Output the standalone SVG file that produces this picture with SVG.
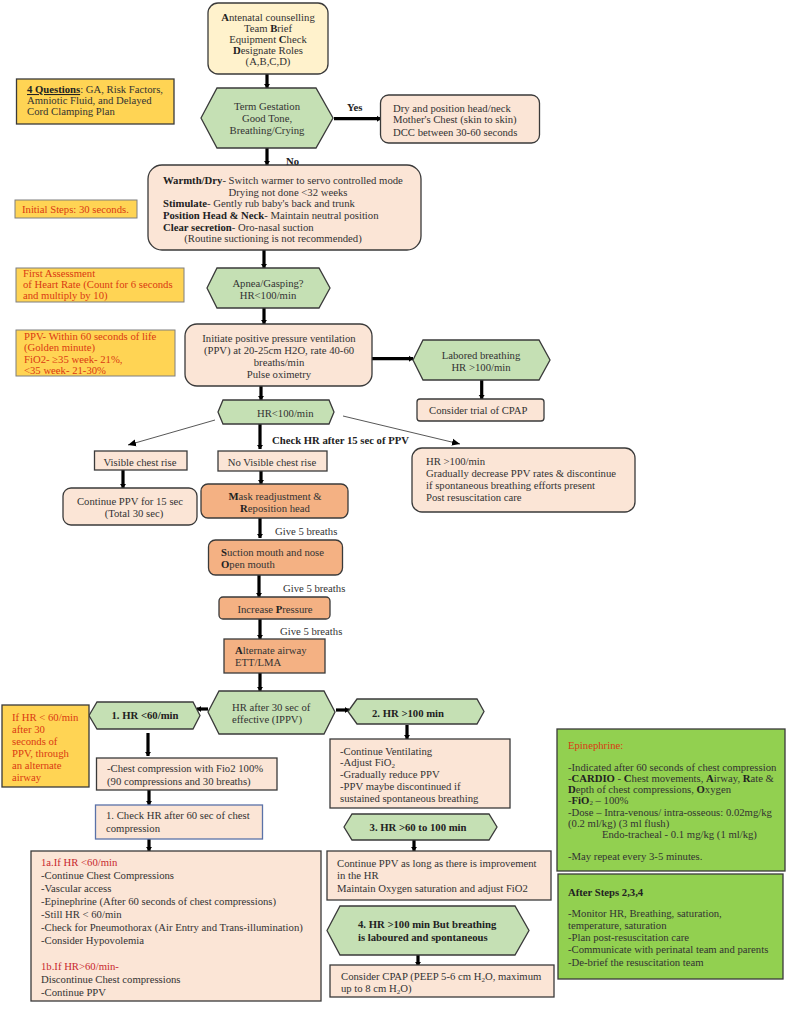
<svg xmlns="http://www.w3.org/2000/svg" width="787" height="1009" viewBox="0 0 787 1009">
<style>
text{font-family:"Liberation Serif","Times New Roman",serif;font-size:10.7px;fill:#333}
.c{text-anchor:middle}
.b{font-weight:bold;fill:#222}
.k{font-weight:bold;fill:#222}
.r{fill:#DA3A12}
.d{fill:#C8282E}
.s{font-size:7px}
.n{stroke:#3a3a3a;stroke-width:1.3}
.cream{fill:#FFF2CC}
.peach{fill:#FBE5D6}
.orange{fill:#F4B183}
.green{fill:#C5E0B4}
.yellow{fill:#FFD454}
.lime{fill:#92D050}
.g{stroke:#7f7f7f}
#connectors .t{stroke:#000;stroke-width:3.2;fill:none;marker-end:url(#h)}
#connectors .f{stroke:#444;stroke-width:.9;fill:none;marker-end:url(#a)}
</style>
<defs>
<marker id="h" markerUnits="userSpaceOnUse" markerWidth="8" markerHeight="8" refX="6" refY="4" orient="auto"><path d="M2 1L6 4L2 7Z" fill="#000"/></marker>
<marker id="a" markerUnits="userSpaceOnUse" markerWidth="9" markerHeight="8" refX="8" refY="4" orient="auto"><path d="M0 0.5L8 4L0 7.5Z" fill="#000"/></marker>
</defs>
<rect width="787" height="1009" fill="#fff"/>
<g id="connectors">
<path class="t" d="M267 74V88"/>
<path class="t" d="M334 118.700H381"/>
<path class="t" d="M267 148V165"/>
<path class="t" d="M264 250V268"/>
<path class="t" d="M264 306V324"/>
<path class="t" d="M261 386V400"/>
<path class="t" d="M372 358.700H413"/>
<path class="t" d="M481.700 380V399"/>
<path class="f" d="M215 420L128 445"/>
<path class="f" d="M343 416L460 444"/>
<path class="t" d="M260 424V449"/>
<path class="t" d="M123 470V488"/>
<path class="t" d="M261 471V484"/>
<path class="t" d="M260 518V538"/>
<path class="t" d="M259 575V597"/>
<path class="t" d="M260 619V639"/>
<path class="t" d="M260 673V691"/>
<path class="t" d="M208 709H197"/>
<path class="t" d="M336 710H349"/>
<path class="t" d="M148 733V756"/>
<path class="t" d="M149 790V805"/>
<path class="t" d="M149 839V851"/>
<path class="t" d="M407 725V739"/>
<path class="t" d="M414 840V851"/>
<path class="t" d="M418 953V966"/>
</g>
<g id="n-antenatal"><rect class="n cream" x="208" y="3" width="120" height="71" rx="10"/>
<text class="c" x="268" y="21"><tspan class="k">A</tspan>ntenatal counselling</text><text class="c" x="268" y="32">Team <tspan class="k">B</tspan>rief</text><text class="c" x="268" y="43">Equipment <tspan class="k">C</tspan>heck</text><text class="c" x="268" y="54"><tspan class="k">D</tspan>esignate Roles</text><text class="c" x="268" y="65">(A,B,C,D)</text></g>
<g id="n-questions"><rect class="n yellow" x="16.500" y="79" width="157.500" height="45"/>
<text x="27" y="93"><tspan class="k" text-decoration="underline">4 Questions</tspan>: GA, Risk Factors,</text><text x="27" y="104">Amniotic Fluid, and Delayed</text><text x="27" y="115">Cord Clamping Plan</text></g>
<g id="n-term"><polygon class="n green" points="201,118 217,88 316,88 333,118 316,148 217,148"/>
<text class="c" x="267" y="110">Term Gestation</text><text class="c" x="267" y="122">Good Tone,</text><text class="c" x="267" y="134">Breathing/Crying</text></g>
<g id="l-yes"><text class="b" x="347" y="111">Yes</text></g>
<g id="n-dry"><rect class="n peach" x="380.500" y="95" width="159" height="48" rx="8"/>
<text x="393" y="112">Dry and position head/neck</text><text x="393" y="123">Mother's Chest (skin to skin)</text><text x="393" y="136">DCC between 30-60 seconds</text></g>
<g id="l-no"><text class="b" x="286" y="165">No</text></g>
<g id="n-warmth"><rect class="n peach" x="148" y="165" width="273" height="85" rx="14"/>
<text x="163" y="184"><tspan class="k">Warmth/Dry</tspan>- Switch warmer to servo controlled mode</text><text class="c" x="288" y="196">Drying not done &lt;32 weeks</text><text x="163" y="207"><tspan class="k">Stimulate</tspan>- Gently rub baby's back and trunk</text><text x="163" y="219"><tspan class="k">Position Head &amp; Neck</tspan>- Maintain neutral position</text><text x="163" y="231"><tspan class="k">Clear secretion</tspan>- Oro-nasal suction</text><text class="c" x="273" y="242">(Routine suctioning is not recommended)</text></g>
<g id="n-initial"><rect class="g yellow" x="15" y="200" width="122" height="18"/><text class="r" x="22" y="213">Initial Steps: 30 seconds.</text></g>
<g id="n-first"><rect class="g yellow" x="16" y="268" width="168" height="34"/>
<text class="r" x="23" y="277">First Assessment</text><text class="r" x="23" y="288">of Heart Rate  (Count for 6 seconds</text><text class="r" x="23" y="299">and multiply by 10)</text></g>
<g id="n-apnea"><polygon class="n green" points="207,288 217,268 319,268 330,288 319,308 217,308"/>
<text class="c" x="268" y="287">Apnea/Gasping?</text><text class="c" x="268" y="299">HR&lt;100/min</text></g>
<g id="n-ppvnote"><rect class="g yellow" x="16" y="330" width="159" height="46"/>
<text class="r" x="24" y="340">PPV- Within 60 seconds of life</text><text class="r" x="24" y="351">(Golden minute)</text><text class="r" x="24" y="363">FiO2- ≥35 week- 21%,</text><text class="r" x="24" y="374">&lt;35 week- 21-30%</text></g>
<g id="n-initiate"><rect class="n peach" x="185" y="324" width="187" height="62" rx="12"/>
<text class="c" x="279" y="342">Initiate positive pressure ventilation</text><text class="c" x="279" y="354">(PPV) at 20-25cm H2O, rate 40-60</text><text class="c" x="279" y="366">breaths/min</text><text class="c" x="279" y="378">Pulse oximetry</text></g>
<g id="n-labored"><polygon class="n green" points="413,360 423,340 539,340 550,360 539,380 423,380"/>
<text class="c" x="481" y="359">Labored breathing</text><text class="c" x="481" y="371">HR &gt;100/min</text></g>
<g id="n-cpaptrial"><rect class="n peach" x="417" y="399" width="127" height="22" rx="3"/><text x="429" y="414">Consider trial of CPAP</text></g>
<g id="n-hr100"><polygon class="n green" points="218,412 223,400 329,400 334,412 329,424 223,424"/>
<text x="257" y="417">HR&lt;100/min</text></g>
<g id="l-check"><text class="b" x="272" y="444">Check HR after 15 sec of PPV</text></g>
<g id="n-visible"><rect class="n peach" x="94.500" y="451" width="92.500" height="19"/><text class="c" x="140" y="466">Visible chest rise</text></g>
<g id="n-novisible"><rect class="n peach" x="218" y="451" width="109" height="20"/><text class="c" x="272" y="466">No Visible chest rise</text></g>
<g id="n-hrgt100"><rect class="n peach" x="412" y="448" width="223" height="64" rx="10"/>
<text x="426" y="465">HR &gt;100/min</text><text x="426" y="477">Gradually decrease PPV rates &amp; discontinue</text><text x="426" y="489">if spontaneous breathing efforts present</text><text x="426" y="501">Post resuscitation care</text></g>
<g id="n-continue"><rect class="n peach" x="63" y="488" width="134" height="37" rx="8"/>
<text class="c" x="130" y="505">Continue PPV for 15 sec</text><text class="c" x="134" y="517">(Total 30 sec)</text></g>
<g id="n-mask"><rect class="n orange" x="201" y="484" width="147" height="34" rx="7"/>
<text class="c" x="275" y="500"><tspan class="k">M</tspan>ask readjustment &amp;</text><text class="c" x="275" y="512"><tspan class="k">R</tspan>eposition head</text></g>
<g id="l-give1"><text x="275" y="535">Give 5 breaths</text></g>
<g id="n-suction"><rect class="n orange" x="208.500" y="540" width="134" height="35" rx="7"/>
<text x="221" y="556"><tspan class="k">S</tspan>uction mouth and nose</text><text x="221" y="568"><tspan class="k">O</tspan>pen mouth</text></g>
<g id="l-give2"><text x="283" y="592">Give 5 breaths</text></g>
<g id="n-pressure"><rect class="n orange" x="219" y="597" width="111" height="22" rx="4"/><text class="c" x="275" y="613">Increase <tspan class="k">P</tspan>ressure</text></g>
<g id="l-give3"><text x="280" y="635">Give 5 breaths</text></g>
<g id="n-airway"><rect class="n orange" x="224" y="639" width="101" height="34"/>
<text x="235" y="654"><tspan class="k">A</tspan>lternate airway</text><text x="235" y="666">ETT/LMA</text></g>
<g id="n-hr30"><polygon class="n green" points="208,712 219,691 324,691 335,712 324,734 219,734"/>
<text x="232" y="711">HR after 30 sec of</text><text x="232" y="723">effective (IPPV)</text></g>
<g id="n-hr60"><polygon class="n green" points="89,715.500 97,702 193,702 200,715.500 193,729 97,729"/>
<text class="b c" x="145" y="719">1. HR &lt;60/min</text></g>
<g id="n-hr100b"><polygon class="n green" points="348,711.500 357,699 477,699 484,711.500 477,724 357,724"/>
<text class="b c" x="408" y="717">2. HR &gt;100 min</text></g>
<g id="n-note60"><rect class="n yellow" x="2" y="705" width="87" height="82"/>
<text class="r" x="12" y="721">If HR &lt; 60/min</text><text class="r" x="12" y="733">after 30</text><text class="r" x="12" y="745">seconds of</text><text class="r" x="12" y="757">PPV, through</text><text class="r" x="12" y="769">an alternate</text><text class="r" x="12" y="781">airway</text></g>
<g id="n-compress"><rect class="n peach" x="96.500" y="758" width="180.500" height="32"/>
<text x="107" y="772">-Chest compression with Fio2 100%</text><text x="107" y="785">(90 compressions and 30 breaths)</text></g>
<g id="n-check60"><rect class="peach" x="95.500" y="805" width="167" height="34" stroke="#5A72A8" stroke-width="1.300"/>
<text x="106" y="819">1. Check HR after 60 sec of chest</text><text x="106" y="832">compression</text></g>
<g id="n-1a"><rect class="n peach" x="31" y="851" width="290" height="150"/>
<text class="d" x="41" y="866">1a.If HR &lt;60/min</text><text x="41" y="879">-Continue Chest Compressions</text><text x="41" y="892">-Vascular access</text><text x="41" y="905">-Epinephrine (After 60 seconds of chest compressions)</text><text x="41" y="918">-Still HR &lt; 60/min</text><text x="41" y="931">-Check for Pneumothorax (Air Entry and Trans-illumination)</text><text x="41" y="944">-Consider Hypovolemia</text><text class="d" x="41" y="970">1b.If HR&gt;60/min-</text><text x="41" y="983">Discontinue Chest compressions</text><text x="41" y="996">-Continue PPV</text></g>
<g id="n-vent"><rect class="n peach" x="330" y="739" width="180" height="69"/>
<text x="340" y="755">-Continue Ventilating</text><text x="340" y="766">-Adjust FiO<tspan class="s" dy="2">2</tspan></text><text x="340" y="778">-Gradually reduce PPV</text><text x="340" y="790">-PPV maybe discontinued if</text><text x="340" y="802">sustained spontaneous breathing</text></g>
<g id="n-hr3"><polygon class="n green" points="344,827 352,814 489,814 497,827 489,840 352,840"/>
<text class="b c" x="418" y="831">3. HR &gt;60 to 100 min</text></g>
<g id="n-contppv"><rect class="n peach" x="327" y="851" width="224" height="49"/>
<text x="337" y="867">Continue PPV as long as there is improvement</text><text x="337" y="879">in the HR</text><text x="337" y="892">Maintain Oxygen saturation and adjust FiO2</text></g>
<g id="n-hr4"><polygon class="n green" points="327,930.500 340,906 515,906 529,930.500 515,955 340,955"/>
<text class="b" x="358" y="928">4. HR &gt;100 min But breathing</text><text class="b" x="358" y="941">is laboured and spontaneous</text></g>
<g id="n-cpap"><rect class="n peach" x="330" y="965" width="224" height="32"/>
<text x="341" y="980">Consider CPAP (PEEP 5-6 cm H<tspan class="s" dy="2">2</tspan><tspan dy="-2">O, maximum</tspan></text><text x="341" y="992">up to 8 cm H<tspan class="s" dy="2">2</tspan><tspan dy="-2">O)</tspan></text></g>
<g id="n-epi"><rect class="n lime" x="557" y="729" width="228" height="142"/>
<text class="r" x="568" y="749">Epinephrine:</text><text x="568" y="771">-Indicated after 60 seconds of chest compression</text><text x="568" y="782">-<tspan class="k">CARDIO</tspan> - <tspan class="k">C</tspan>hest movements, <tspan class="k">A</tspan>irway, <tspan class="k">R</tspan>ate &amp;</text><text x="568" y="793"><tspan class="k">D</tspan>epth of chest compressions, <tspan class="k">O</tspan>xygen</text><text x="568" y="803.500">-<tspan class="k">FiO</tspan><tspan class="s" dy="1">2</tspan><tspan dy="-1"> – 100%</tspan></text><text x="568" y="816">-Dose – Intra-venous/ intra-osseous: 0.02mg/kg</text><text x="568" y="827">(0.2 ml/kg) (3 ml flush)</text><text x="602" y="838">Endo-tracheal - 0.1 mg/kg (1 ml/kg)</text><text x="568" y="860">-May repeat every 3-5 minutes.</text></g>
<g id="n-after"><rect class="n lime" x="558" y="874" width="225" height="105"/>
<text class="b" x="568" y="896">After Steps 2,3,4</text><text x="568" y="917">-Monitor HR, Breathing, saturation,</text><text x="568" y="929">temperature, saturation</text><text x="568" y="941">-Plan post-resuscitation care</text><text x="568" y="953">-Communicate with perinatal team and parents</text><text x="568" y="966">-De-brief the resuscitation team</text></g>
</svg>
